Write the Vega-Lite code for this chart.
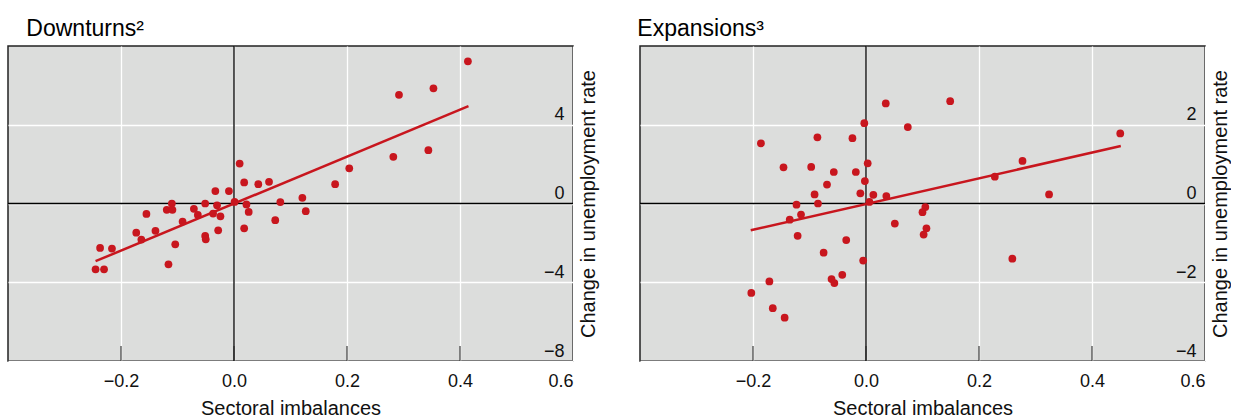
{
  "$schema": "https://vega.github.io/schema/vega-lite/v6.json",
  "padding": {"left": 6, "top": 17, "right": 0, "bottom": 0},
  "background": "white",
  "bounds": "flush",
  "spacing": 67,
  "datasets": {
    "down": [
      {"x": 0.010, "y": 2.03}, {"x": 0.018, "y": 1.07}, {"x": 0.043, "y": 0.98}, {"x": 0.062, "y": 1.10},
      {"x": -0.009, "y": 0.63}, {"x": -0.033, "y": 0.63}, {"x": 0.001, "y": 0.08}, {"x": 0.022, "y": -0.05},
      {"x": 0.026, "y": -0.43}, {"x": 0.082, "y": 0.07}, {"x": 0.121, "y": 0.29}, {"x": 0.127, "y": -0.39},
      {"x": 0.073, "y": -0.85}, {"x": 0.018, "y": -1.26}, {"x": -0.051, "y": 0.0}, {"x": -0.030, "y": -0.09},
      {"x": -0.037, "y": -0.51}, {"x": -0.024, "y": -0.65}, {"x": -0.028, "y": -1.36}, {"x": -0.051, "y": -1.65},
      {"x": -0.050, "y": -1.82}, {"x": -0.071, "y": -0.27}, {"x": -0.064, "y": -0.58}, {"x": -0.091, "y": -0.92},
      {"x": -0.110, "y": 0.0}, {"x": -0.119, "y": -0.32}, {"x": -0.109, "y": -0.32}, {"x": -0.104, "y": -2.07},
      {"x": -0.116, "y": -3.09}, {"x": -0.155, "y": -0.53}, {"x": -0.139, "y": -1.39}, {"x": -0.173, "y": -1.48},
      {"x": -0.164, "y": -1.83}, {"x": -0.237, "y": -2.26}, {"x": -0.216, "y": -2.29}, {"x": -0.245, "y": -3.34},
      {"x": -0.230, "y": -3.34}, {"x": 0.414, "y": 7.22}, {"x": 0.292, "y": 5.52}, {"x": 0.353, "y": 5.85},
      {"x": 0.344, "y": 2.71}, {"x": 0.282, "y": 2.37}, {"x": 0.204, "y": 1.79}, {"x": 0.179, "y": 0.98}
    ],
    "downfit": [{"x": -0.245, "y": -2.93}, {"x": 0.415, "y": 4.95}],
    "exp": [
      {"x": 0.035, "y": 2.54}, {"x": -0.003, "y": 2.04}, {"x": 0.074, "y": 1.94}, {"x": -0.086, "y": 1.68},
      {"x": -0.024, "y": 1.66}, {"x": -0.186, "y": 1.53}, {"x": -0.146, "y": 0.92}, {"x": -0.097, "y": 0.93},
      {"x": -0.057, "y": 0.80}, {"x": -0.018, "y": 0.80}, {"x": 0.003, "y": 1.02}, {"x": -0.002, "y": 0.57},
      {"x": -0.069, "y": 0.48}, {"x": -0.010, "y": 0.26}, {"x": 0.013, "y": 0.22}, {"x": 0.036, "y": 0.19},
      {"x": -0.091, "y": 0.23}, {"x": -0.085, "y": 0.0}, {"x": -0.123, "y": -0.03}, {"x": 0.006, "y": 0.04},
      {"x": -0.115, "y": -0.28}, {"x": -0.135, "y": -0.41}, {"x": -0.121, "y": -0.82}, {"x": 0.051, "y": -0.51},
      {"x": 0.105, "y": -0.09}, {"x": 0.100, "y": -0.22}, {"x": 0.107, "y": -0.63}, {"x": 0.102, "y": -0.79},
      {"x": -0.035, "y": -0.93}, {"x": -0.075, "y": -1.25}, {"x": -0.005, "y": -1.45}, {"x": -0.042, "y": -1.81},
      {"x": -0.061, "y": -1.92}, {"x": -0.056, "y": -2.02}, {"x": -0.171, "y": -1.98}, {"x": -0.203, "y": -2.27},
      {"x": -0.165, "y": -2.66}, {"x": -0.144, "y": -2.90}, {"x": 0.149, "y": 2.60}, {"x": 0.450, "y": 1.78},
      {"x": 0.277, "y": 1.08}, {"x": 0.228, "y": 0.68}, {"x": 0.324, "y": 0.23}, {"x": 0.259, "y": -1.40}
    ],
    "expfit": [{"x": -0.204, "y": -0.68}, {"x": 0.451, "y": 1.46}],
    "zero": [{"x": 0, "y": 0}],
    "xticks": [{"x": -0.2}, {"x": 0}, {"x": 0.2}, {"x": 0.4}]
  },
  "config": {
    "font": "Liberation Sans",
    "view": {"fill": "#dcdddc", "stroke": "#222222", "strokeWidth": 1.5},
    "title": {"anchor": "start", "fontSize": 23, "fontWeight": "normal", "color": "#000000", "font": "Liberation Sans", "baseline": "alphabetic", "offset": 4},
    "axisX": {
      "grid": true, "gridColor": "#ffffff", "gridWidth": 1.3, "domain": false,
      "ticks": false,
      "labelPadding": 11, "labelFontSize": 18, "labelColor": "#111111", "labelFont": "Liberation Sans",
      "titleFontSize": 20, "titleFontWeight": "normal", "titleColor": "#111111", "titleFont": "Liberation Sans", "titlePadding": 8
    },
    "axisY": {
      "grid": true, "gridColor": "#ffffff", "gridWidth": 1.3, "domain": false, "ticks": false,
      "labelAlign": "right", "labelBaseline": "alphabetic", "labelPadding": -9, "labelOffset": -5,
      "labelFontSize": 18, "labelColor": "#111111", "labelFont": "Liberation Sans",
      "titleFontSize": 20, "titleFontWeight": "normal", "titleColor": "#111111", "titleFont": "Liberation Sans",
      "titleAngle": 270, "titleBaseline": "alphabetic", "titlePadding": 21
    }
  },
  "hconcat": [
    {
      "width": 565, "height": 315,
      "title": {"text": "Downturns²", "dx": 19},
      "layer": [
        {
          "data": {"name": "zero"},
          "mark": {"type": "rule", "color": "#000000", "strokeWidth": 1.3},
          "encoding": {
            "x": {"field": "x", "type": "quantitative", "scale": {"domain": [-0.4, 0.6], "nice": false, "zero": false},
                  "axis": {"title": "Sectoral imbalances", "values": [-0.2, 0, 0.2, 0.4, 0.6], "format": ".1f"}}
          }
        },
        {
          "data": {"name": "zero"},
          "mark": {"type": "rule", "color": "#000000", "strokeWidth": 1.3},
          "encoding": {
            "y": {"field": "y", "type": "quantitative", "scale": {"domain": [-8, 8], "nice": false},
                  "axis": {"orient": "right", "title": "Change in unemployment rate", "values": [-8, -4, 0, 4], "format": "d"}}
          }
        },
        {
          "data": {"name": "xticks"},
          "mark": {"type": "tick", "orient": "vertical", "color": "#222222", "size": 30, "thickness": 1.5, "clip": true},
          "encoding": {
            "x": {"field": "x", "type": "quantitative", "axis": {"title": "Sectoral imbalances", "values": [-0.2, 0, 0.2, 0.4, 0.6], "format": ".1f"}},
            "y": {"datum": -8, "type": "quantitative", "axis": {"orient": "right", "title": "Change in unemployment rate", "values": [-8, -4, 0, 4], "format": "d"}}
          }
        },
        {
          "data": {"name": "downfit"},
          "mark": {"type": "line", "color": "#c8161e", "strokeWidth": 2.5},
          "encoding": {
            "x": {"field": "x", "type": "quantitative", "axis": {"title": "Sectoral imbalances", "values": [-0.2, 0, 0.2, 0.4, 0.6], "format": ".1f"}},
            "y": {"field": "y", "type": "quantitative", "axis": {"orient": "right", "title": "Change in unemployment rate", "values": [-8, -4, 0, 4], "format": "d"}}
          }
        },
        {
          "data": {"name": "down"},
          "mark": {"type": "circle", "size": 60, "color": "#c8161e", "opacity": 1},
          "encoding": {
            "x": {"field": "x", "type": "quantitative", "axis": {"title": "Sectoral imbalances", "values": [-0.2, 0, 0.2, 0.4, 0.6], "format": ".1f"}},
            "y": {"field": "y", "type": "quantitative", "axis": {"orient": "right", "title": "Change in unemployment rate", "values": [-8, -4, 0, 4], "format": "d"}}
          }
        }
      ]
    },
    {
      "width": 565, "height": 315,
      "title": {"text": "Expansions³", "dx": -2},
      "layer": [
        {
          "data": {"name": "zero"},
          "mark": {"type": "rule", "color": "#000000", "strokeWidth": 1.3},
          "encoding": {
            "x": {"field": "x", "type": "quantitative", "scale": {"domain": [-0.4, 0.6], "nice": false, "zero": false},
                  "axis": {"title": "Sectoral imbalances", "values": [-0.2, 0, 0.2, 0.4, 0.6], "format": ".1f"}}
          }
        },
        {
          "data": {"name": "zero"},
          "mark": {"type": "rule", "color": "#000000", "strokeWidth": 1.3},
          "encoding": {
            "y": {"field": "y", "type": "quantitative", "scale": {"domain": [-4, 4], "nice": false},
                  "axis": {"orient": "right", "title": "Change in unemployment rate", "values": [-4, -2, 0, 2], "format": "d"}}
          }
        },
        {
          "data": {"name": "xticks"},
          "mark": {"type": "tick", "orient": "vertical", "color": "#222222", "size": 30, "thickness": 1.5, "clip": true},
          "encoding": {
            "x": {"field": "x", "type": "quantitative", "axis": {"title": "Sectoral imbalances", "values": [-0.2, 0, 0.2, 0.4, 0.6], "format": ".1f"}},
            "y": {"datum": -4, "type": "quantitative", "axis": {"orient": "right", "title": "Change in unemployment rate", "values": [-4, -2, 0, 2], "format": "d"}}
          }
        },
        {
          "data": {"name": "expfit"},
          "mark": {"type": "line", "color": "#c8161e", "strokeWidth": 2.5},
          "encoding": {
            "x": {"field": "x", "type": "quantitative", "axis": {"title": "Sectoral imbalances", "values": [-0.2, 0, 0.2, 0.4, 0.6], "format": ".1f"}},
            "y": {"field": "y", "type": "quantitative", "axis": {"orient": "right", "title": "Change in unemployment rate", "values": [-4, -2, 0, 2], "format": "d"}}
          }
        },
        {
          "data": {"name": "exp"},
          "mark": {"type": "circle", "size": 60, "color": "#c8161e", "opacity": 1},
          "encoding": {
            "x": {"field": "x", "type": "quantitative", "axis": {"title": "Sectoral imbalances", "values": [-0.2, 0, 0.2, 0.4, 0.6], "format": ".1f"}},
            "y": {"field": "y", "type": "quantitative", "axis": {"orient": "right", "title": "Change in unemployment rate", "values": [-4, -2, 0, 2], "format": "d"}}
          }
        }
      ]
    }
  ]
}
